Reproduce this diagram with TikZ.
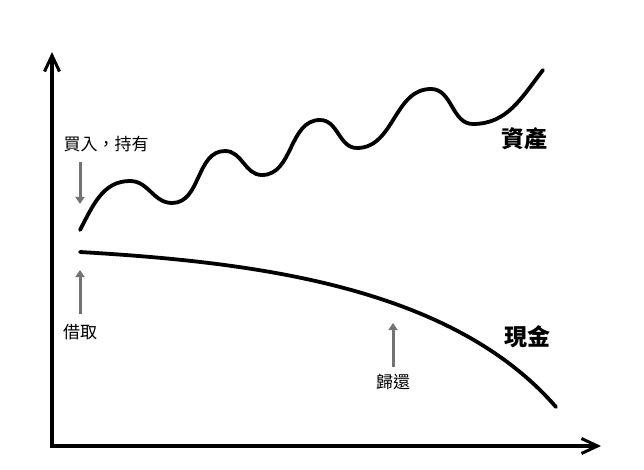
\documentclass[tikz,border=0pt]{standalone}
\usepackage{fontspec}
\setmainfont{Noto Sans CJK TC}
\usetikzlibrary{arrows.meta}
\tikzset{
  axis/.style={line width=3.6pt, -{Straight Barb[length=16pt,width=15pt,line width=3pt]}},
  curve/.style={line width=3.8pt, line cap=round},
  note/.style={line width=3pt, draw=black!55, -{Triangle[length=7pt,width=9pt]}, fill=black!55},
  lbl/.style={font=\fontsize{17}{20}\selectfont, inner sep=0pt},
  big/.style={font=\fontsize{23}{26}\selectfont\bfseries, inner sep=0pt},
}
\begin{document}
\begin{tikzpicture}[x=1pt,y=-1pt]
\useasboundingbox (0,0) rectangle (644,470);
% axes
\coordinate (O) at (52,446);
\coordinate (Y) at (52,52);
\coordinate (X) at (601,446);
\draw[axis] (52,448) -- (Y);
\draw[axis] (50,446) -- (X);
% asset curve
\draw[curve] (80,230) to[out=62,in=180] (130,181) to[out=0,in=180,looseness=1] (172,203)
  to[out=0,in=180] (225,151) to[out=0,in=180] (262,175) to[out=0,in=180] (320,120)
  to[out=0,in=180] (357,148) to[out=0,in=180] (431,89) to[out=0,in=180] (473,124)
  to[out=0,in=232] (543,70);
% cash curve
\draw[curve] (80,252) .. controls (250,262) and (450,285) .. (556,407);
% labels
\node[lbl] (buy) at (106,144) {買入，持有};
\node[lbl] (borrow) at (80,332) {借取};
\node[lbl] (repay) at (393,382) {歸還};
\node[big] (asset) at (524,139) {資產};
\node[big] (cash) at (527,337) {現金};
% note arrows
\coordinate (b1) at (80,162);
\coordinate (b2) at (80,204);
\coordinate (c1) at (80,314);
\coordinate (c2) at (80,270);
\coordinate (r1) at (393,367);
\coordinate (r2) at (393,323);
\draw[note] (b1) -- (b2);
\draw[note] (c1) -- (c2);
\draw[note] (r1) -- (r2);
\end{tikzpicture}
\end{document}
